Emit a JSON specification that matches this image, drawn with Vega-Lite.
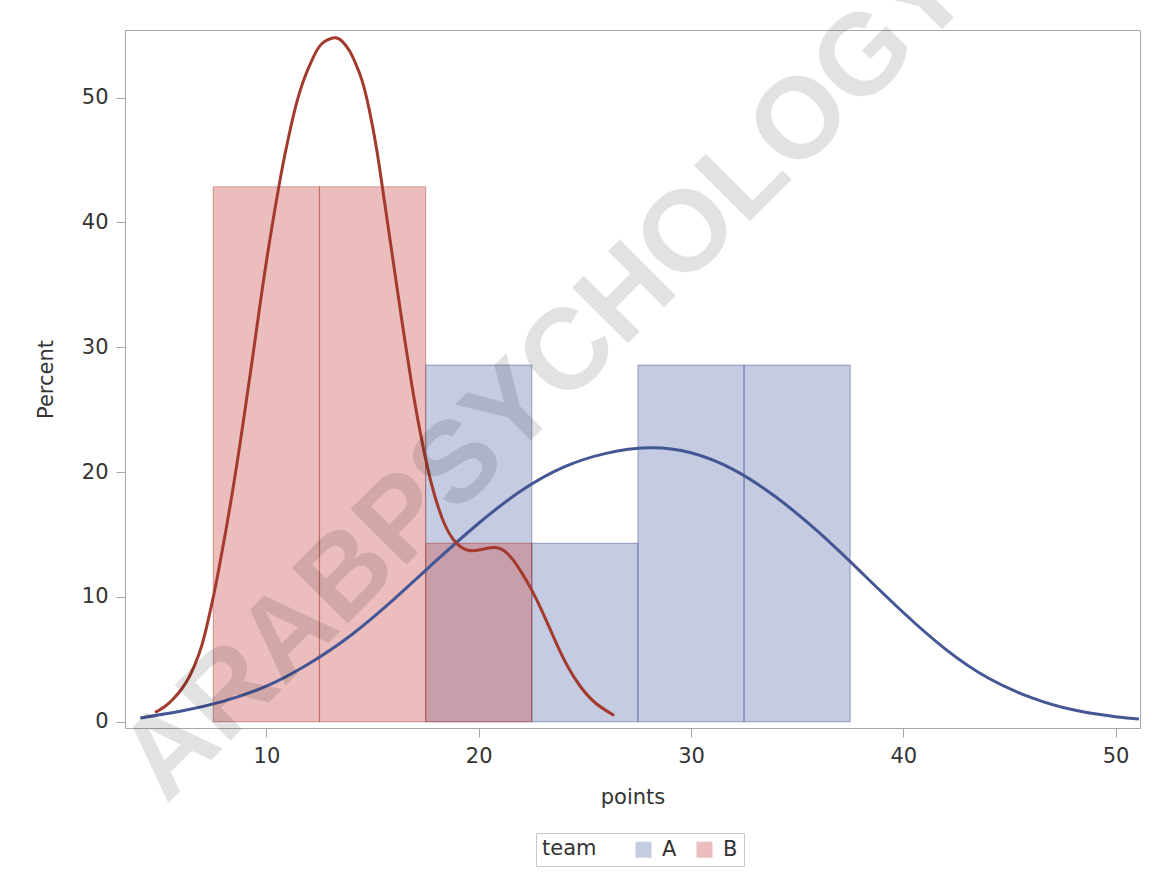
{
  "$schema": "https://vega.github.io/schema/vega-lite/v6.json",
  "width": 1015,
  "height": 698,
  "autosize": {"type": "none"},
  "padding": {"left": 125, "top": 30, "right": 27, "bottom": 151},
  "background": "white",
  "config": {
    "view": {"stroke": "#a4a7ad", "strokeWidth": 1},
    "font": "DejaVu Sans",
    "axis": {
      "domain": false,
      "grid": false,
      "tickColor": "#a4a7ad",
      "tickSize": 9,
      "labelFontSize": 21,
      "titleFontSize": 21,
      "titleFontWeight": "normal",
      "labelColor": "#333333",
      "titleColor": "#333333",
      "labelFont": "DejaVu Sans",
      "titleFont": "DejaVu Sans"
    }
  },
  "datasets": {
    "bars": [
      {"team": "A", "bin_start": 17.5, "bin_end": 22.5, "percent": 28.57},
      {"team": "A", "bin_start": 22.5, "bin_end": 27.5, "percent": 14.29},
      {"team": "A", "bin_start": 27.5, "bin_end": 32.5, "percent": 28.57},
      {"team": "A", "bin_start": 32.5, "bin_end": 37.5, "percent": 28.57},
      {"team": "B", "bin_start": 7.5, "bin_end": 12.5, "percent": 42.86},
      {"team": "B", "bin_start": 12.5, "bin_end": 17.5, "percent": 42.86},
      {"team": "B", "bin_start": 17.5, "bin_end": 22.5, "percent": 14.29}
    ],
    "curves": [
      {"team": "A", "points": 4.06, "percent": 0.3},
      {"team": "A", "points": 6.0, "percent": 0.85},
      {"team": "A", "points": 8.0, "percent": 1.65},
      {"team": "A", "points": 10.0, "percent": 2.85},
      {"team": "A", "points": 12.0, "percent": 4.65},
      {"team": "A", "points": 14.0, "percent": 6.95},
      {"team": "A", "points": 16.0, "percent": 9.8},
      {"team": "A", "points": 18.0, "percent": 12.9},
      {"team": "A", "points": 20.0, "percent": 15.9},
      {"team": "A", "points": 22.0, "percent": 18.5},
      {"team": "A", "points": 24.0, "percent": 20.4},
      {"team": "A", "points": 26.0, "percent": 21.5},
      {"team": "A", "points": 28.0, "percent": 21.95},
      {"team": "A", "points": 30.0, "percent": 21.55},
      {"team": "A", "points": 32.0, "percent": 20.2},
      {"team": "A", "points": 34.0, "percent": 18.0},
      {"team": "A", "points": 36.0, "percent": 15.2},
      {"team": "A", "points": 38.0, "percent": 12.0},
      {"team": "A", "points": 40.0, "percent": 8.75},
      {"team": "A", "points": 42.0, "percent": 5.8},
      {"team": "A", "points": 44.0, "percent": 3.5},
      {"team": "A", "points": 46.0, "percent": 1.95},
      {"team": "A", "points": 48.0, "percent": 0.95},
      {"team": "A", "points": 50.0, "percent": 0.4},
      {"team": "A", "points": 51.1, "percent": 0.22},
      {"team": "B", "points": 4.76, "percent": 0.75},
      {"team": "B", "points": 5.2, "percent": 1.2},
      {"team": "B", "points": 5.6, "percent": 1.8},
      {"team": "B", "points": 6.0, "percent": 2.6},
      {"team": "B", "points": 6.4, "percent": 3.7},
      {"team": "B", "points": 6.8, "percent": 5.3},
      {"team": "B", "points": 7.1, "percent": 7.0},
      {"team": "B", "points": 7.5, "percent": 10.0},
      {"team": "B", "points": 7.8, "percent": 12.6},
      {"team": "B", "points": 8.1, "percent": 15.4},
      {"team": "B", "points": 8.4, "percent": 18.4},
      {"team": "B", "points": 8.77, "percent": 22.4},
      {"team": "B", "points": 9.25, "percent": 28.0},
      {"team": "B", "points": 9.55, "percent": 31.6},
      {"team": "B", "points": 10.03, "percent": 37.2},
      {"team": "B", "points": 10.58, "percent": 42.8},
      {"team": "B", "points": 10.88, "percent": 45.5},
      {"team": "B", "points": 11.35, "percent": 49.1},
      {"team": "B", "points": 11.82, "percent": 51.7},
      {"team": "B", "points": 12.2, "percent": 53.2},
      {"team": "B", "points": 12.6, "percent": 54.3},
      {"team": "B", "points": 13.2, "percent": 54.8},
      {"team": "B", "points": 13.55, "percent": 54.55},
      {"team": "B", "points": 13.9, "percent": 53.8},
      {"team": "B", "points": 14.2, "percent": 52.75},
      {"team": "B", "points": 14.5, "percent": 51.4},
      {"team": "B", "points": 14.85, "percent": 49.0},
      {"team": "B", "points": 15.2, "percent": 45.8},
      {"team": "B", "points": 15.5, "percent": 42.4},
      {"team": "B", "points": 15.8, "percent": 38.9},
      {"team": "B", "points": 16.16, "percent": 34.7},
      {"team": "B", "points": 16.5, "percent": 30.8},
      {"team": "B", "points": 16.85, "percent": 27.0},
      {"team": "B", "points": 17.2, "percent": 23.6},
      {"team": "B", "points": 17.6, "percent": 20.3},
      {"team": "B", "points": 18.0, "percent": 17.7},
      {"team": "B", "points": 18.4, "percent": 15.8},
      {"team": "B", "points": 18.8, "percent": 14.6},
      {"team": "B", "points": 19.2, "percent": 13.95},
      {"team": "B", "points": 19.6, "percent": 13.7},
      {"team": "B", "points": 20.0, "percent": 13.75},
      {"team": "B", "points": 20.4, "percent": 13.9},
      {"team": "B", "points": 20.8, "percent": 13.95},
      {"team": "B", "points": 21.2, "percent": 13.7},
      {"team": "B", "points": 21.6, "percent": 13.0},
      {"team": "B", "points": 22.0, "percent": 12.0},
      {"team": "B", "points": 22.45, "percent": 10.7},
      {"team": "B", "points": 23.0, "percent": 8.8},
      {"team": "B", "points": 23.6, "percent": 6.5},
      {"team": "B", "points": 24.2, "percent": 4.4},
      {"team": "B", "points": 24.8, "percent": 2.8},
      {"team": "B", "points": 25.5, "percent": 1.5},
      {"team": "B", "points": 26.38, "percent": 0.5}
    ]
  },
  "layer": [
    {
      "data": {"name": "bars"},
      "mark": {"type": "rect", "fillOpacity": 0.4, "strokeOpacity": 0.4, "strokeWidth": 1.2},
      "encoding": {
        "x": {
          "field": "bin_start",
          "type": "quantitative",
          "title": "points",
          "scale": {"domain": [3.34, 51.15], "nice": false, "zero": false},
          "axis": {"values": [10, 20, 30, 40, 50], "labelPadding": 8, "titlePadding": 20}
        },
        "x2": {"field": "bin_end"},
        "y": {
          "field": "percent",
          "type": "quantitative",
          "title": "Percent",
          "scale": {"domain": [-0.505, 55.42], "nice": false, "zero": false},
          "axis": {"values": [0, 10, 20, 30, 40, 50], "labelPadding": 8, "titlePadding": 25}
        },
        "y2": {"datum": 0},
        "fill": {
          "field": "team",
          "type": "nominal",
          "scale": {"domain": ["A", "B"], "range": ["#6F7EB3", "#D05B5B"]},
          "legend": {
            "orient": "none",
            "legendX": 411,
            "legendY": 803,
            "direction": "horizontal",
            "title": "team",
            "titleOrient": "left",
            "titleFontSize": 21,
            "titleFontWeight": "normal",
            "titleColor": "#333333",
            "titleFont": "DejaVu Sans",
            "titlePadding": 36,
            "labelFontSize": 21,
            "labelColor": "#333333",
            "labelFont": "DejaVu Sans",
            "labelOffset": 8,
            "columnPadding": 17,
            "symbolType": "square",
            "symbolSize": 256,
            "symbolOpacity": 0.4,
            "symbolStrokeWidth": 0,
            "strokeColor": "#c9c9c9",
            "fillColor": "white",
            "padding": 6
          }
        },
        "stroke": {
          "field": "team",
          "type": "nominal",
          "scale": {"domain": ["A", "B"], "range": ["#445694", "#A23A2E"]},
          "legend": null
        }
      }
    },
    {
      "data": {"name": "curves"},
      "mark": {"type": "line", "strokeWidth": 3, "interpolate": "natural"},
      "encoding": {
        "x": {"field": "points", "type": "quantitative", "title": "points"},
        "y": {"field": "percent", "type": "quantitative", "title": "Percent"},
        "stroke": {"field": "team", "type": "nominal", "legend": null}
      }
    },
    {
      "data": {"values": [{"label": "ARABPSYCHOLOGY"}]},
      "mark": {
        "type": "text",
        "angle": 315,
        "font": "Liberation Sans",
        "fontSize": 115,
        "fontWeight": "bold",
        "fill": "#000000",
        "opacity": 0.11,
        "align": "center",
        "baseline": "middle"
      },
      "encoding": {
        "text": {"field": "label"},
        "x": {"datum": 23.16},
        "y": {"datum": 27.7}
      }
    }
  ]
}
